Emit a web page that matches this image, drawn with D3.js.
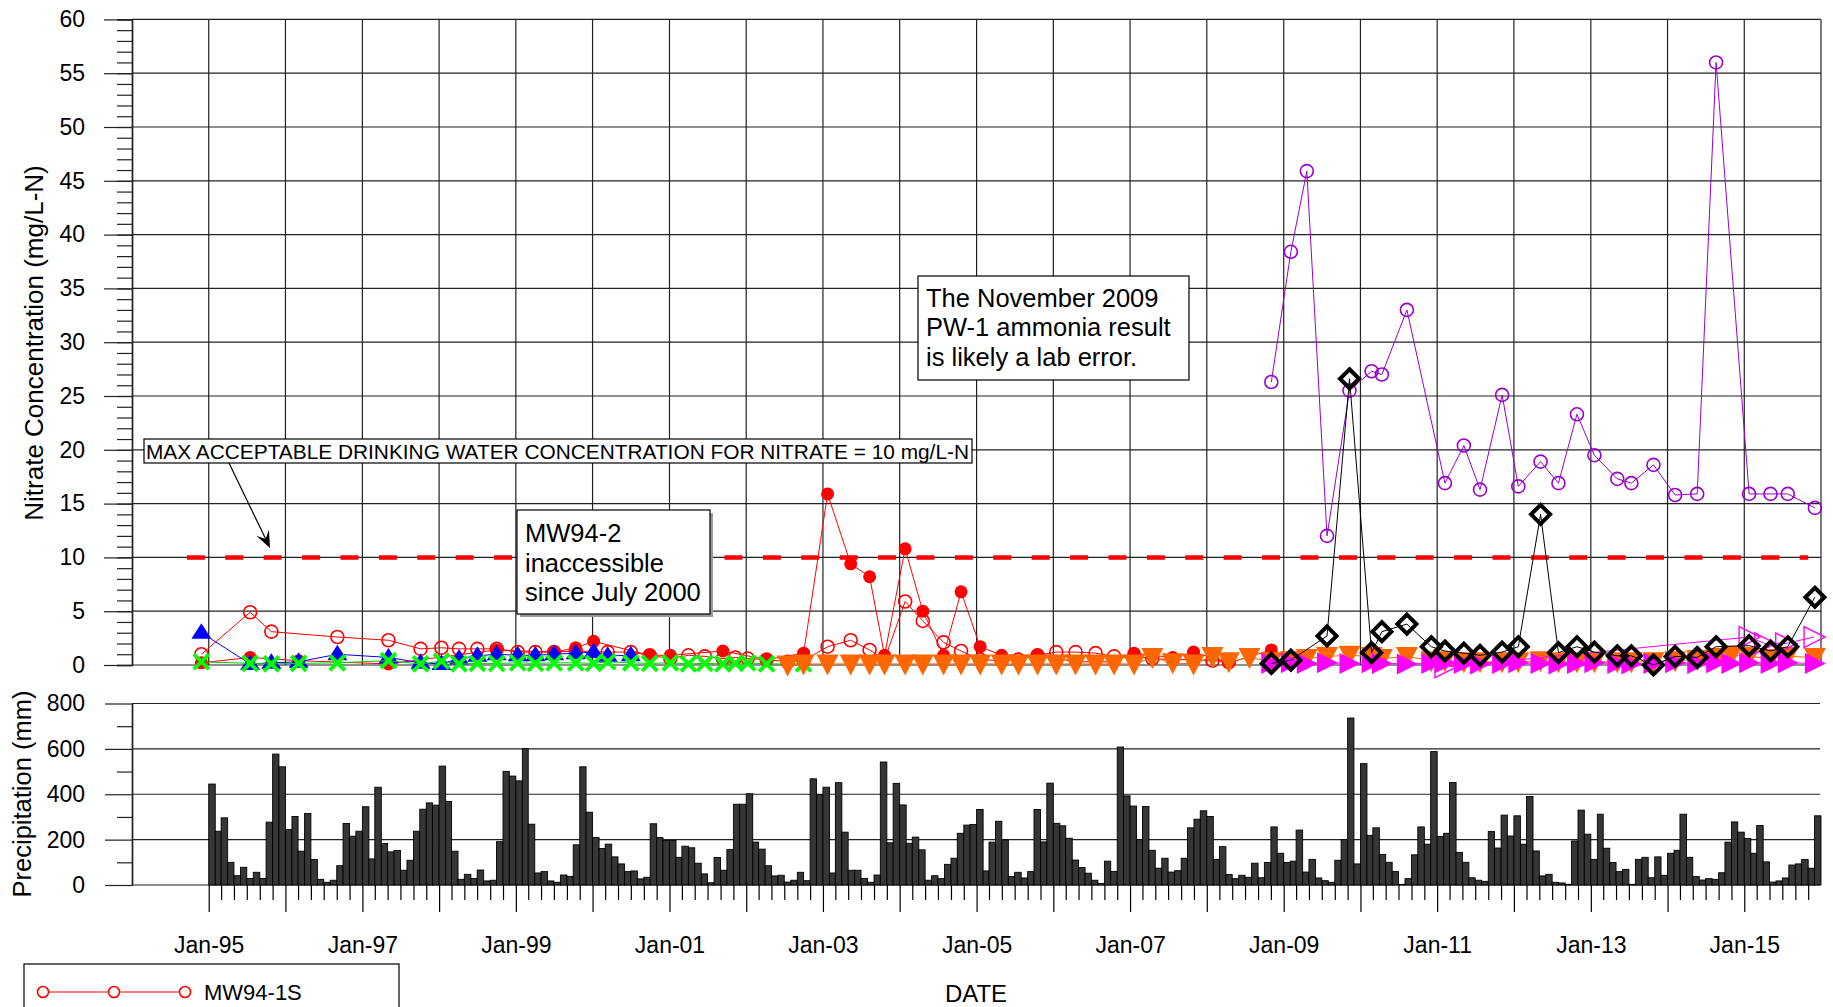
<!DOCTYPE html>
<html>
<head>
<meta charset="utf-8">
<script src="https://cdn.jsdelivr.net/npm/d3@7"></script>
<style>
  html, body { margin: 0; padding: 0; background: #fff; }
  svg { display: block; font-family: "Liberation Sans", Arial, Helvetica, sans-serif; }
</style>
</head>
<body>
<svg id="chart" width="1833" height="1007"></svg>
<script>
// ---------------- data ----------------
const nitrateTicks = [0, 5, 10, 15, 20, 25, 30, 35, 40, 45, 50, 55, 60];
const precipTicks = [0, 200, 400, 600, 800];
const precipMinorTicks = [100, 300, 500, 700];
const limitValue = 10;                       // mg/L-N drinking water limit
const limitSpan = ["1994-09-19", "2015-11-01"];

// Monthly precipitation (mm), Jan 1995 .. Dec 2015, one row per year
const precipStart = "1995-01-01";
const precipitationMm = [
  445, 237, 296, 100, 41, 78, 29, 56, 29, 277, 577, 521,   // 1995
  244, 302, 149, 315, 112, 25, 12, 21, 85, 271, 215, 237,  // 1996
  345, 115, 431, 183, 146, 152, 65, 109, 237, 334, 362, 352, // 1997
  524, 368, 149, 25, 47, 29, 66, 18, 21, 191, 501, 480,    // 1998
  459, 601, 268, 53, 59, 18, 12, 44, 38, 177, 521, 321,    // 1999
  209, 161, 180, 124, 93, 59, 62, 27, 34, 270, 209, 196,   // 2000
  196, 122, 171, 164, 96, 49, 10, 121, 65, 156, 356, 356,  // 2001
  402, 189, 158, 85, 40, 43, 13, 21, 56, 19, 468, 398,     // 2002
  431, 53, 451, 233, 65, 65, 29, 12, 44, 542, 186, 448,    // 2003
  353, 184, 211, 155, 21, 41, 28, 91, 118, 228, 264, 267,  // 2004
  333, 62, 189, 281, 199, 37, 56, 31, 59, 333, 190, 449,   // 2005
  272, 261, 206, 110, 77, 52, 21, 7, 105, 60, 608, 393,    // 2006
  348, 200, 346, 153, 74, 118, 57, 63, 118, 252, 290, 327, // 2007
  302, 113, 169, 46, 28, 43, 34, 96, 32, 99, 256, 140,     // 2008
  99, 105, 242, 57, 113, 31, 19, 12, 109, 200, 736, 93,    // 2009
  535, 219, 252, 135, 100, 59, 3, 28, 133, 256, 180, 588,  // 2010
  214, 228, 452, 144, 100, 32, 21, 16, 236, 163, 308, 216, // 2011
  305, 180, 390, 150, 40, 47, 12, 9, 3, 194, 330, 224,     // 2012
  113, 312, 162, 99, 59, 69, 3, 113, 122, 32, 124, 43,     // 2013
  140, 153, 312, 122, 37, 22, 28, 25, 54, 189, 278, 233,   // 2014
  205, 140, 262, 102, 13, 18, 31, 88, 93, 113, 74, 305     // 2015
];

// Nitrate concentrations (mg/L-N) by well: [sample date, value]
const mw941S = [
  ["1994-11-27", 1.0], ["1995-07-17", 4.9], ["1995-10-26", 3.1], ["1996-09-04", 2.6],
  ["1997-05-05", 2.3], ["1997-10-05", 1.5], ["1998-01-12", 1.6], ["1998-04-06", 1.5],
  ["1998-07-02", 1.5], ["1998-10-02", 1.5], ["1999-01-10", 1.2], ["1999-04-04", 1.2],
  ["1999-07-02", 1.2], ["1999-10-13", 1.3], ["2000-03-13", 1.2], ["2000-07-01", 1.2],
  ["2000-09-29", 0.9], ["2001-01-05", 0.6], ["2001-04-01", 0.9], ["2001-06-18", 0.8],
  ["2001-09-12", 0.6], ["2001-11-10", 0.7], ["2002-01-08", 0.6], ["2002-04-08", 0.5],
  ["2002-07-17", 0.3], ["2002-10-01", 0.4], ["2003-01-23", 1.7], ["2003-05-13", 2.3],
  ["2003-08-11", 1.4], ["2003-10-21", 0.5], ["2004-01-27", 5.9], ["2004-04-20", 4.1],
  ["2004-07-28", 2.1], ["2004-10-19", 1.3], ["2005-01-18", 0.5], ["2005-04-30", 0.4],
  ["2005-07-19", 0.5], ["2005-10-18", 0.9], ["2006-01-15", 1.2], ["2006-04-17", 1.2],
  ["2006-07-21", 1.1], ["2006-10-17", 0.8], ["2007-01-20", 0.8], ["2007-04-17", 0.6],
  ["2007-07-23", 0.5], ["2007-10-30", 0.5], ["2008-01-28", 0.4], ["2008-04-15", 0.3]
];
const mw941D = [
  ["1994-11-27", 0.2], ["1995-07-17", 0.7], ["1996-03-04", 0.4], ["1997-05-05", 0.1],
  ["1998-10-02", 1.4], ["1999-07-02", 1.2], ["1999-10-13", 1.6], ["2000-01-06", 2.2],
  ["2000-09-29", 0.9], ["2001-01-05", 0.9], ["2001-09-12", 1.3], ["2002-04-08", 0.5],
  ["2002-10-01", 1.1], ["2003-01-23", 15.9], ["2003-05-13", 9.4], ["2003-08-11", 8.2],
  ["2003-10-21", 0.9], ["2004-01-27", 10.8], ["2004-04-20", 5.0], ["2004-07-28", 0.9],
  ["2004-10-19", 6.8], ["2005-01-18", 1.7], ["2005-04-30", 0.9], ["2005-10-18", 0.9],
  ["2006-04-17", 0.3], ["2006-10-17", 0.3], ["2007-01-20", 1.1], ["2007-04-17", 0.9],
  ["2007-07-23", 0.7], ["2007-10-30", 1.2], ["2008-04-15", 0.2], ["2008-11-03", 1.4]
];
const mw942 = [
  ["1994-11-27", 3.0], ["1995-07-17", 0.1], ["1995-10-26", 0.2], ["1996-03-04", 0.3],
  ["1996-09-04", 1.0], ["1997-05-05", 0.7], ["1997-10-05", 0.2], ["1998-01-12", 0.1],
  ["1998-04-06", 0.6], ["1998-07-02", 0.85], ["1998-10-02", 1.0], ["1999-01-10", 0.9],
  ["1999-04-04", 0.9], ["1999-07-02", 1.0], ["1999-10-13", 1.1], ["2000-01-06", 1.2],
  ["2000-03-13", 0.85], ["2000-07-01", 0.9]
];
const mw943 = [
  ["1994-11-27", 0.3], ["1995-07-17", 0.15], ["1995-10-26", 0.1], ["1996-03-04", 0.15],
  ["1996-09-04", 0.2], ["1997-05-05", 0.4], ["1997-10-05", 0.1], ["1998-01-12", 0.35],
  ["1998-04-06", 0.1], ["1998-07-02", 0.15], ["1998-10-02", 0.15], ["1999-01-10", 0.2],
  ["1999-04-04", 0.15], ["1999-07-02", 0.2], ["1999-10-13", 0.2], ["2000-01-06", 0.15],
  ["2000-03-13", 0.3], ["2000-07-01", 0.2], ["2000-09-29", 0.15], ["2001-01-05", 0.2],
  ["2001-04-01", 0.1], ["2001-06-18", 0.15], ["2001-09-12", 0.1], ["2001-11-10", 0.15],
  ["2002-01-08", 0.2], ["2002-04-08", 0.1], ["2002-10-01", 0.1]
];
const mw02 = [
  ["2002-07-17", 0.0], ["2002-10-01", 0.1], ["2003-01-23", 0.1], ["2003-05-13", 0.1],
  ["2003-08-11", 0.1], ["2003-10-21", 0.1], ["2004-01-27", 0.1], ["2004-04-20", 0.1],
  ["2004-07-28", 0.1], ["2004-10-19", 0.1], ["2005-01-18", 0.1], ["2005-04-30", 0.1],
  ["2005-07-19", 0.1], ["2005-10-18", 0.1], ["2006-01-15", 0.1], ["2006-04-17", 0.1],
  ["2006-07-21", 0.1], ["2006-10-17", 0.1], ["2007-01-20", 0.1], ["2007-04-17", 0.7],
  ["2007-07-23", 0.2], ["2007-10-30", 0.1], ["2008-01-28", 0.8], ["2008-04-15", 0.3],
  ["2008-07-22", 0.7], ["2008-11-03", 0.3], ["2009-02-04", 0.4], ["2009-04-21", 0.6],
  ["2009-07-26", 0.8], ["2009-11-10", 0.9], ["2010-02-23", 0.8], ["2010-04-13", 0.6],
  ["2010-08-10", 0.8], ["2010-12-04", 0.4], ["2011-02-07", 0.4], ["2011-05-08", 0.3],
  ["2011-07-24", 0.3], ["2011-11-06", 0.3], ["2012-01-22", 0.3], ["2012-05-07", 0.4],
  ["2012-07-31", 0.3], ["2012-10-27", 0.3], ["2013-01-18", 0.3], ["2013-05-07", 0.3],
  ["2013-07-13", 0.3], ["2013-10-26", 0.3], ["2014-02-06", 0.4], ["2014-05-22", 0.5],
  ["2014-08-20", 0.7], ["2014-11-01", 0.9], ["2015-01-24", 0.8], ["2015-05-06", 0.6],
  ["2015-07-27", 0.8], ["2015-12-03", 0.7]
];
const mw08 = [
  ["2008-11-03", 0.15], ["2009-02-04", 0.2], ["2009-04-21", 0.15], ["2009-07-26", 0.2],
  ["2009-11-10", 0.15], ["2010-02-23", 0.2], ["2010-04-13", 0.15], ["2010-08-10", 0.1],
  ["2010-12-04", 0.15], ["2011-02-07", 0.2], ["2011-05-08", 0.15], ["2011-07-24", 0.1],
  ["2011-11-06", 0.15], ["2012-01-22", 0.2], ["2012-05-07", 0.15], ["2012-07-31", 0.1],
  ["2012-10-27", 0.15], ["2013-01-18", 0.2], ["2013-05-07", 0.15], ["2013-07-13", 0.1],
  ["2013-10-26", 0.15], ["2014-02-06", 0.2], ["2014-05-22", 0.15], ["2014-08-20", 0.2],
  ["2014-11-01", 0.15], ["2015-01-24", 0.2], ["2015-05-06", 0.15], ["2015-07-27", 0.2],
  ["2015-12-03", 0.15]
];
const mw08Dup = [
  ["2011-02-07", -0.2], ["2015-01-24", 2.6], ["2015-04-08", 2.0], ["2015-07-17", 2.0],
  ["2015-11-29", 2.6]
];
const pw1 = [
  ["2008-11-03", 26.3], ["2009-02-04", 38.4], ["2009-04-21", 45.9], ["2009-07-26", 12.0],
  ["2009-11-10", 25.5], ["2010-02-23", 27.3], ["2010-04-13", 27.0], ["2010-08-10", 33.0],
  ["2011-02-07", 16.9], ["2011-05-08", 20.4], ["2011-07-24", 16.3], ["2011-11-06", 25.1],
  ["2012-01-22", 16.6], ["2012-05-07", 18.9], ["2012-07-31", 16.9], ["2012-10-27", 23.3],
  ["2013-01-18", 19.5], ["2013-05-07", 17.3], ["2013-07-13", 16.9], ["2013-10-26", 18.6],
  ["2014-02-06", 15.8], ["2014-05-22", 15.9], ["2014-08-20", 56.0], ["2015-01-24", 15.9],
  ["2015-05-06", 15.9], ["2015-07-27", 15.9], ["2015-12-03", 14.6]
];
const pw2 = [
  ["2008-11-03", 0.15], ["2009-02-04", 0.45], ["2009-07-26", 2.7], ["2009-11-10", 26.6],
  ["2010-02-23", 1.15], ["2010-04-13", 3.1], ["2010-08-10", 3.8], ["2010-12-04", 1.7],
  ["2011-02-07", 1.3], ["2011-05-08", 1.1], ["2011-07-24", 0.9], ["2011-11-06", 1.2],
  ["2012-01-22", 1.7], ["2012-05-07", 14.0], ["2012-07-31", 1.15], ["2012-10-27", 1.7],
  ["2013-01-18", 1.2], ["2013-05-07", 0.85], ["2013-07-13", 0.85], ["2013-10-26", 0.0],
  ["2014-02-06", 0.8], ["2014-05-22", 0.7], ["2014-08-20", 1.7], ["2015-01-24", 1.8],
  ["2015-05-06", 1.3], ["2015-07-27", 1.7], ["2015-12-03", 6.3]
];

// ---------------- layout ----------------
const svg = d3.select("#chart");
const parse = d3.utcParse("%Y-%m-%d");
const FONT = '"Liberation Sans", Arial, Helvetica, sans-serif';

const x = d3.scaleUtc()
  .domain([Date.UTC(1994, 0, 1), Date.UTC(2016, 0, 1)])
  .range([132, 1821]);
const yTop = d3.scaleLinear().domain([0, 60]).range([665, 19.4]);
const yPr = d3.scaleLinear().domain([0, 800]).range([885, 703.5]);

const gridColor = "#222";

// ---------- upper panel: grid ----------
const upperPanel = svg.append("g");
const yearStarts = d3.utcYear.range(new Date(Date.UTC(1995, 0, 1)), new Date(Date.UTC(2016, 0, 2)));
upperPanel.selectAll("line.vgrid").data(yearStarts).join("line")
  .attr("x1", d => x(d)).attr("x2", d => x(d))
  .attr("y1", yTop(60)).attr("y2", yTop(0))
  .attr("stroke", gridColor).attr("stroke-width", 1.2);
upperPanel.selectAll("line.hgrid").data(nitrateTicks).join("line")
  .attr("x1", x.range()[0]).attr("x2", x.range()[1])
  .attr("y1", d => yTop(d)).attr("y2", d => yTop(d))
  .attr("stroke", gridColor).attr("stroke-width", 1.2);

// left axis with major and minor ticks
const upperMinor = upperPanel.append("g").attr("transform", `translate(${x.range()[0]},0)`)
  .call(d3.axisLeft(yTop).tickValues(d3.range(0, 61, 1)).tickSize(15).tickFormat(""));
const upperMajor = upperPanel.append("g").attr("transform", `translate(${x.range()[0]},0)`)
  .call(d3.axisLeft(yTop).tickValues(nitrateTicks).tickSize(28).tickSizeOuter(0).tickPadding(19));
[upperMinor, upperMajor].forEach(g => {
  g.selectAll("line").attr("stroke", gridColor).attr("stroke-width", 1.2);
  g.select(".domain").attr("stroke", gridColor).attr("stroke-width", 1.4);
});
upperMajor.selectAll("text").attr("font-family", FONT).attr("font-size", 23).attr("fill", "#000");

svg.append("text")
  .attr("transform", "translate(43,343) rotate(-90)")
  .attr("text-anchor", "middle")
  .attr("font-family", FONT).attr("font-size", 26).attr("fill", "#000")
  .text("Nitrate Concentration (mg/L-N)");

// drinking-water limit line
upperPanel.append("line")
  .attr("x1", x(parse(limitSpan[0]))).attr("x2", x(parse(limitSpan[1])))
  .attr("y1", yTop(limitValue)).attr("y2", yTop(limitValue))
  .attr("stroke", "#ff0000").attr("stroke-width", 4.5)
  .attr("stroke-dasharray", "18,20.4");

// ---------- annotations ----------
function noteBox(x0, y0, w, h, lines, size, lead, shadow) {
  const g = svg.append("g");
  if (shadow) g.append("rect").attr("x", x0 + 3).attr("y", y0 + 3).attr("width", w).attr("height", h).attr("fill", "#9a9a9a");
  g.append("rect").attr("x", x0).attr("y", y0).attr("width", w).attr("height", h)
    .attr("fill", "#fff").attr("stroke", "#000").attr("stroke-width", 1.2);
  lines.forEach((t, i) => {
    g.append("text").attr("x", x0 + 8).attr("y", y0 + lead.first + i * lead.step)
      .attr("font-family", FONT).attr("font-size", size).attr("fill", "#000").text(t);
  });
  return g;
}

// arrow from the limit caption down to the dashed line
const arrowTail = [229, 463], arrowTip = [270, 548];
(function () {
  const dx = arrowTip[0] - arrowTail[0], dy = arrowTip[1] - arrowTail[1];
  const L = Math.hypot(dx, dy), ux = dx / L, uy = dy / L, px = -uy, py = ux;
  svg.append("line").attr("x1", arrowTail[0]).attr("y1", arrowTail[1])
    .attr("x2", arrowTip[0] - ux * 6).attr("y2", arrowTip[1] - uy * 6)
    .attr("stroke", "#000").attr("stroke-width", 1.2);
  const hl = 17, hw = 7, notch = 10;
  const pts = [
    [arrowTip[0], arrowTip[1]],
    [arrowTip[0] - ux * hl + px * hw, arrowTip[1] - uy * hl + py * hw],
    [arrowTip[0] - ux * notch, arrowTip[1] - uy * notch],
    [arrowTip[0] - ux * hl - px * hw, arrowTip[1] - uy * hl - py * hw]
  ];
  svg.append("path").attr("d", "M" + pts.map(p => p.join(",")).join("L") + "Z").attr("fill", "#000");
})();

const maxBox = svg.append("g");
maxBox.append("rect").attr("x", 144).attr("y", 439).attr("width", 828).attr("height", 24)
  .attr("fill", "#fff").attr("stroke", "#000").attr("stroke-width", 1.2);
maxBox.append("text").attr("x", 146).attr("y", 459)
  .attr("font-family", FONT).attr("font-size", 21).attr("fill", "#000")
  .attr("textLength", 823).attr("lengthAdjust", "spacingAndGlyphs")
  .text("MAX ACCEPTABLE DRINKING WATER CONCENTRATION FOR NITRATE = 10 mg/L-N");

noteBox(517, 510, 193, 104, ["MW94-2", "inaccessible", "since July 2000"], 25.5, { first: 32, step: 29.5 }, true);
noteBox(918, 276, 271, 104, ["The November 2009", "PW-1 ammonia result", "is likely a lab error."], 25.5, { first: 31, step: 29.3 }, false);

// ---------- nitrate series ----------
const seriesLayer = svg.append("g");
const sym = {
  circle: d3.symbol().type(d3.symbolCircle).size(Math.PI * 6.5 * 6.5)(),
  triUp: "M0,-9.5L10,6L-10,6Z",
  triDown: "M-11,-9.5L11,-9.5L0,11.5Z",
  triRight: "M-10,-10.5L11,0L-10,10.5Z",
  diamond: "M0,-9.5L9.5,0L0,9.5L-9.5,0Z",
  cross: "M-7.5,-7.5L7.5,7.5M7.5,-7.5L-7.5,7.5"
};
function plot(data, o) {
  const pts = data.map(([d, v]) => ({ date: parse(d), value: v }));
  seriesLayer.append("path").datum(pts)
    .attr("d", d3.line().x(d => x(d.date)).y(d => yTop(d.value)))
    .attr("fill", "none").attr("stroke", o.line).attr("stroke-width", o.lw || 1);
  seriesLayer.append("g").selectAll("path").data(pts).join("path")
    .attr("transform", d => `translate(${x(d.date)},${yTop(d.value)})`)
    .attr("d", o.shape)
    .attr("fill", o.fill)
    .attr("stroke", o.stroke || "none")
    .attr("stroke-width", o.sw || 0)
    .attr("stroke-linejoin", "miter");
}
plot(mw941S, { line: "#ff0000", shape: sym.circle, fill: "none", stroke: "#ff0000", sw: 1.6 });
plot(mw941D, { line: "#ff0000", shape: sym.circle, fill: "#ff0000" });
plot(mw942, { line: "#0000ff", shape: sym.triUp, fill: "#0000ff" });
plot(mw943, { line: "#00cc00", shape: sym.cross, fill: "none", stroke: "#00ff00", sw: 3.8 });
plot(mw02, { line: "#ff6600", shape: sym.triDown, fill: "#ff6600" });
plot(mw08, { line: "#ff00ff", shape: sym.triRight, fill: "#ff00ff" });
plot(mw08Dup, { line: "#ff00ff", shape: sym.triRight, fill: "none", stroke: "#ff00ff", sw: 1.4 });
plot(pw1, { line: "#9900cc", shape: sym.circle, fill: "none", stroke: "#9900cc", sw: 1.6 });
plot(pw2, { line: "#000000", shape: sym.diamond, fill: "none", stroke: "#000", sw: 4 });

// ---------- lower panel: precipitation ----------
const lowerPanel = svg.append("g");
lowerPanel.selectAll("line.pgrid").data(precipTicks).join("line")
  .attr("x1", x.range()[0]).attr("x2", 1820)
  .attr("y1", d => yPr(d)).attr("y2", d => yPr(d))
  .attr("stroke", gridColor).attr("stroke-width", 1.2);
const prMinor = lowerPanel.append("g").attr("transform", `translate(${x.range()[0]},0)`)
  .call(d3.axisLeft(yPr).tickValues(precipMinorTicks).tickSize(15).tickSizeOuter(0).tickFormat(""));
const prMajor = lowerPanel.append("g").attr("transform", `translate(${x.range()[0]},0)`)
  .call(d3.axisLeft(yPr).tickValues(precipTicks).tickSize(27).tickSizeOuter(0).tickPadding(20));
[prMinor, prMajor].forEach(g => {
  g.selectAll("line").attr("stroke", gridColor).attr("stroke-width", 1.2);
  g.select(".domain").attr("stroke", gridColor).attr("stroke-width", 1.4);
});
prMajor.selectAll("text").attr("font-family", FONT).attr("font-size", 23).attr("fill", "#000");

const monthStart = parse(precipStart);
const bars = precipitationMm.map((v, i) => ({
  start: d3.utcMonth.offset(monthStart, i),
  end: d3.utcMonth.offset(monthStart, i + 1),
  value: v
}));
lowerPanel.append("g").selectAll("rect").data(bars).join("rect")
  .attr("x", d => x(d.start))
  .attr("width", d => x(d.end) - x(d.start))
  .attr("y", d => yPr(d.value))
  .attr("height", d => yPr(0) - yPr(d.value))
  .attr("fill", "#363636").attr("stroke", "#000").attr("stroke-width", 0.9);

// date axis: every second month, long ticks and labels at January
const biMonthly = d3.utcMonth.every(2).range(new Date(Date.UTC(1995, 0, 1)), new Date(Date.UTC(2016, 0, 1)))
  .filter(d => d.getUTCMonth() !== 0);
const januaries = d3.utcYear.range(new Date(Date.UTC(1995, 0, 1)), new Date(Date.UTC(2016, 0, 1)));
const xMinor = lowerPanel.append("g").attr("transform", `translate(0,${yPr(0)})`)
  .call(d3.axisBottom(x).tickValues(biMonthly).tickSize(15).tickSizeOuter(0).tickFormat(""));
const xMajor = lowerPanel.append("g").attr("transform", `translate(0,${yPr(0)})`)
  .call(d3.axisBottom(x).tickValues(januaries).tickSize(27).tickSizeOuter(0).tickPadding(25)
    .tickFormat(d => d.getUTCFullYear() % 2 === 1 ? d3.utcFormat("Jan-%y")(d) : ""));
[xMinor, xMajor].forEach(g => {
  g.select(".domain").remove();
  g.selectAll("line").attr("stroke", "#000").attr("stroke-width", 1.2);
});
xMajor.selectAll("text").attr("font-family", FONT).attr("font-size", 23).attr("fill", "#000");

svg.append("text")
  .attr("transform", "translate(31,794) rotate(-90)")
  .attr("text-anchor", "middle")
  .attr("font-family", FONT).attr("font-size", 25.5).attr("fill", "#000")
  .text("Precipitation (mm)");

svg.append("text").attr("x", 976).attr("y", 1002).attr("text-anchor", "middle")
  .attr("font-family", FONT).attr("font-size", 24).attr("fill", "#000").text("DATE");

// ---------- legend ----------
const legend = svg.append("g");
legend.append("rect").attr("x", 24).attr("y", 964).attr("width", 375).attr("height", 80)
  .attr("fill", "#fff").attr("stroke", "#000").attr("stroke-width", 1.2);
legend.append("line").attr("x1", 43).attr("x2", 185).attr("y1", 992).attr("y2", 992)
  .attr("stroke", "#ff0000").attr("stroke-width", 1.2);
legend.selectAll("circle").data([43, 114, 185]).join("circle")
  .attr("cx", d => d).attr("cy", 992).attr("r", 5.5)
  .attr("fill", "#fff").attr("stroke", "#ff0000").attr("stroke-width", 1.6);
legend.append("text").attr("x", 204).attr("y", 1000)
  .attr("font-family", FONT).attr("font-size", 22).attr("fill", "#000").text("MW94-1S");
</script>
</body>
</html>
